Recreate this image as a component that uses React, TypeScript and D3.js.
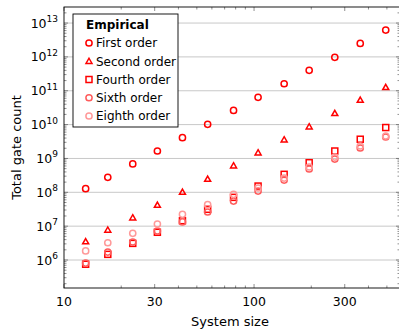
import { useEffect, useRef } from 'react'
import * as d3 from 'd3'

const systemSizes = [13, 17, 23, 31, 42, 57, 78, 105, 144, 195, 266, 362, 493]
const firstOrder = [1.28e8, 2.77e8, 6.9e8, 1.66e9, 4.1e9, 1.02e10, 2.63e10, 6.4e10, 1.61e11, 4.0e11, 9.7e11, 2.5e12, 6.2e12]
const secondOrder = [3.5e6, 7.7e6, 1.78e7, 4.2e7, 1.02e8, 2.47e8, 6.1e8, 1.48e9, 3.58e9, 8.7e9, 2.16e10, 5.3e10, 1.26e11]
const fourthOrder = [7.5e5, 1.47e6, 3.1e6, 6.6e6, 1.45e7, 3.15e7, 7.1e7, 1.53e8, 3.4e8, 7.5e8, 1.66e9, 3.7e9, 8.2e9]
const sixthOrder = [8.1e5, 1.72e6, 3.4e6, 7.2e6, 1.33e7, 2.62e7, 5.5e7, 1.09e8, 2.3e8, 4.9e8, 9.6e8, 2.04e9, 4.3e9]
const eighthOrder = [1.85e6, 3.24e6, 6.15e6, 1.16e7, 2.24e7, 4.3e7, 8.7e7, 1.34e8, 2.64e8, 5.6e8, 1.1e9, 2.33e9, 4.6e9]

const seriesNames = ['First order', 'Second order', 'Fourth order', 'Sixth order', 'Eighth order']
const xTickLabels = [10, 30, 100, 300]
const xMinorTicks = [20, 40, 50, 60, 70, 80, 90, 200, 400, 500]
const yExponents = [6, 7, 8, 9, 10, 11, 12, 13]

const FONT = "'DejaVu Sans', sans-serif"

function App() {
    const ref = useRef<SVGSVGElement | null>(null)
    const width = 399, height = 329
    const left = 64, right = 400, top = 7, bottom = 288

    useEffect(() => {
        const svg = d3.select(ref.current)
        svg.selectAll('*').remove()

        const x = d3.scaleLog().domain([10, 586]).range([left, right])
        const y = d3.scaleLog().domain([1.49e5, 2.98e13]).range([bottom, top])

        const series = [
            { name: seriesNames[0], values: firstOrder, shape: 'circle', color: '#ff0000' },
            { name: seriesNames[1], values: secondOrder, shape: 'triangle', color: '#ff0000' },
            { name: seriesNames[2], values: fourthOrder, shape: 'square', color: '#ff0000' },
            { name: seriesNames[3], values: sixthOrder, shape: 'circle', color: '#ff5c5c' },
            { name: seriesNames[4], values: eighthOrder, shape: 'circle', color: '#ff9999' },
        ]

        // grid
        svg.append('g')
            .selectAll('line')
            .data(yExponents)
            .join('line')
            .attr('x1', left).attr('x2', right)
            .attr('y1', d => y(Math.pow(10, d))).attr('y2', d => y(Math.pow(10, d)))
            .attr('stroke', '#c8c8c8').attr('stroke-width', 1)

        // minor y ticks
        const yMinor: number[] = []
        for (let e = 5; e <= 13; e++) for (let k = 2; k <= 9; k++) {
            const v = k * Math.pow(10, e)
            if (v > y.domain()[0] && v < y.domain()[1]) yMinor.push(v)
        }
        const ticks = svg.append('g').attr('stroke', '#444').attr('stroke-width', 0.6)
        yMinor.forEach(v => {
            ticks.append('line').attr('x1', left).attr('x2', left + 2.5).attr('y1', y(v)).attr('y2', y(v))
            ticks.append('line').attr('x1', right).attr('x2', right - 2.5).attr('y1', y(v)).attr('y2', y(v))
        })
        yExponents.forEach(e => {
            const v = Math.pow(10, e)
            ticks.append('line').attr('x1', left).attr('x2', left + 4).attr('y1', y(v)).attr('y2', y(v))
            ticks.append('line').attr('x1', right).attr('x2', right - 4).attr('y1', y(v)).attr('y2', y(v))
        })
        xMinorTicks.forEach(v => {
            ticks.append('line').attr('x1', x(v)).attr('x2', x(v)).attr('y1', bottom).attr('y2', bottom - 2.5)
            ticks.append('line').attr('x1', x(v)).attr('x2', x(v)).attr('y1', top).attr('y2', top + 2.5)
        })
        xTickLabels.forEach(v => {
            ticks.append('line').attr('x1', x(v)).attr('x2', x(v)).attr('y1', bottom).attr('y2', bottom - 4)
            ticks.append('line').attr('x1', x(v)).attr('x2', x(v)).attr('y1', top).attr('y2', top + 4)
        })

        // frame
        svg.append('rect')
            .attr('x', left).attr('y', top)
            .attr('width', right - left).attr('height', bottom - top)
            .attr('fill', 'none').attr('stroke', '#000').attr('stroke-width', 0.9)

        // tick labels
        svg.append('g')
            .selectAll('text')
            .data(xTickLabels)
            .join('text')
            .attr('x', d => x(d)).attr('y', 306)
            .attr('text-anchor', 'middle')
            .attr('font-family', FONT).attr('font-size', 12.5)
            .text(d => String(d))

        const yl = svg.append('g').attr('font-family', FONT)
        yExponents.forEach(e => {
            const t = yl.append('text')
                .attr('x', 58).attr('y', y(Math.pow(10, e)) + 4.5)
                .attr('text-anchor', 'end').attr('font-size', 12.5)
            t.append('tspan').text('10')
            t.append('tspan').attr('dy', -5.5).attr('font-size', 9).text(String(e))
        })

        // axis titles
        svg.append('text')
            .attr('x', (left + right) / 2 - 2).attr('y', 326)
            .attr('text-anchor', 'middle')
            .attr('font-family', FONT).attr('font-size', 13)
            .text('System size')
        svg.append('text')
            .attr('transform', `translate(21,${(top + bottom) / 2}) rotate(-90)`)
            .attr('text-anchor', 'middle')
            .attr('font-family', FONT).attr('font-size', 13)
            .text('Total gate count')

        function drawMarker(g: any, cx: number, cy: number, shape: string, color: string) {
            if (shape === 'circle') {
                g.append('circle').attr('cx', cx).attr('cy', cy).attr('r', 3.1)
                    .attr('fill', 'none').attr('stroke', color).attr('stroke-width', 1.5)
            } else if (shape === 'square') {
                g.append('rect').attr('x', cx - 3).attr('y', cy - 3).attr('width', 6).attr('height', 6)
                    .attr('fill', 'none').attr('stroke', color).attr('stroke-width', 1.5)
            } else {
                const s = 3
                g.append('path')
                    .attr('d', `M${cx},${cy - s}L${cx + s},${cy + s * 0.75}L${cx - s},${cy + s * 0.75}Z`)
                    .attr('fill', 'none').attr('stroke', color).attr('stroke-width', 1.5)
            }
        }

        // marks
        const marks = svg.append('g')
        series.forEach(s => {
            s.values.forEach((v, i) => drawMarker(marks, x(systemSizes[i]), y(v), s.shape, s.color))
        })

        // legend
        const lg = svg.append('g')
        lg.append('rect')
            .attr('x', 73).attr('y', 14).attr('width', 105).attr('height', 113)
            .attr('fill', '#fff').attr('stroke', '#000').attr('stroke-width', 0.9)
        lg.append('text')
            .attr('x', 86).attr('y', 28.5)
            .attr('font-family', FONT).attr('font-size', 12).attr('font-weight', 'bold')
            .text('Empirical')
        series.forEach((s, i) => {
            const cy = 43 + i * 18.25
            drawMarker(lg, 89, cy, s.shape, s.color)
            lg.append('text')
                .attr('x', 96).attr('y', cy + 4.3)
                .attr('font-family', FONT).attr('font-size', 12)
                .text(s.name)
        })
    }, [])

    return (
        <svg ref={ref} width={width} height={height}
            style={{ position: 'absolute', left: 0, top: 0, display: 'block' }}></svg>
    )
}

export default App
